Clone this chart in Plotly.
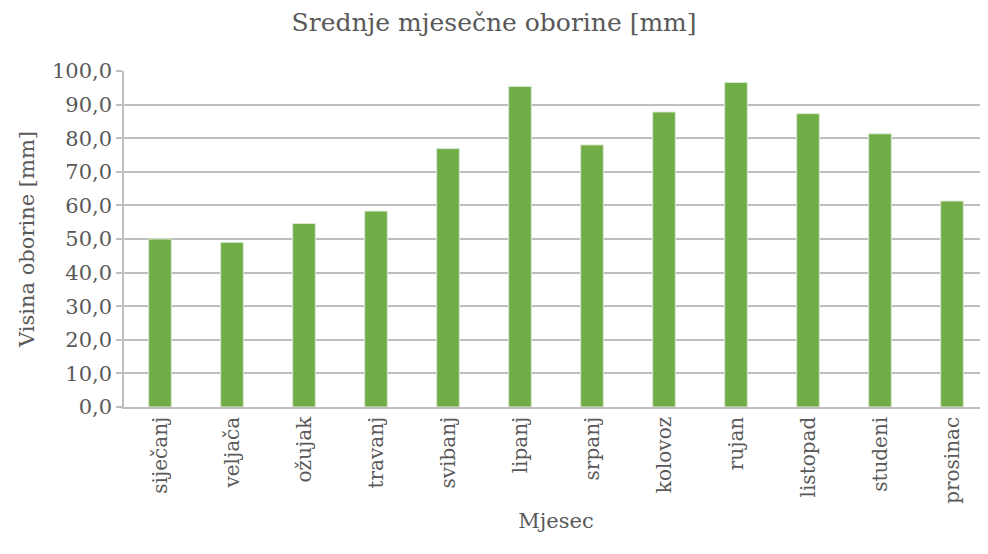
import plotly.graph_objects as go

months = ["siječanj", "veljača", "ožujak", "travanj", "svibanj", "lipanj",
          "srpanj", "kolovoz", "rujan", "listopad", "studeni", "prosinac"]
precip = [50.0, 49.0, 54.6, 58.3, 76.9, 95.4, 78.0, 87.8, 96.6, 87.3, 81.3, 61.3]

font_family = "DejaVu Serif"
grey_text = "#595959"
grid = "#BFBFBF"

fig = go.Figure(go.Bar(
    x=months, y=precip,
    marker=dict(color="#70AD47", line=dict(color="#D9EAD0", width=1)),
))

fig.update_layout(
    width=988, height=554,
    margin=dict(l=116, r=8, t=63, b=155),
    paper_bgcolor="white", plot_bgcolor="white",
    separators=", ",
    bargap=0.685,
    showlegend=False,
    font=dict(family=font_family, color=grey_text),
    title=dict(text="Srednje mjesečne oborine [mm]", x=0.492, xref="container", xanchor="center",
               y=0.974, yref="container", yanchor="middle",
               font=dict(size=25, color=grey_text, family=font_family)),
    xaxis=dict(
        tickangle=-90, tickfont=dict(size=20, color=grey_text, family=font_family),
        showline=True, linecolor=grid, linewidth=1.5,
        showgrid=False, ticks="",
        title=dict(text="Mjesec", font=dict(size=21, color=grey_text, family=font_family), standoff=10),
    ),
    yaxis=dict(
        range=[0, 100], dtick=10, tickformat=".1f",
        tickfont=dict(size=21, color=grey_text, family=font_family),
        showgrid=True, gridcolor=grid, gridwidth=1.5,
        showline=True, linecolor=grid, linewidth=1.5,
        ticks="outside", ticklen=6, tickcolor=grid, tickwidth=1.5,
        zeroline=False,
        title=dict(text="Visina oborine [mm]", font=dict(size=21, color=grey_text, family=font_family), standoff=12),
    ),
)

fig.write_html("out.html")
